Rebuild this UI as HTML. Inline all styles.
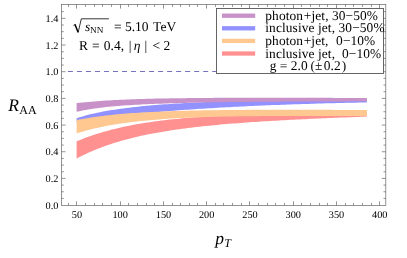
<!DOCTYPE html>
<html><head><meta charset="utf-8"><style>
html,body{margin:0;padding:0;background:#fff;}
svg{display:block;will-change:transform}
text{font-family:"Liberation Serif",serif;fill:#000;text-rendering:geometricPrecision}
.tl{font-size:10.3px}
.lg{font-size:13.4px;letter-spacing:0.1px}
.an{font-size:13.5px}
</style></head><body>
<svg width="407" height="258" viewBox="0 0 407 258">
<rect width="407" height="258" fill="#fff"/>
<path d="M67.9 71.5 H216.5" stroke="#7472bd" stroke-width="1" stroke-dasharray="5 4.02" fill="none"/>
<polygon points="76.6,141.25 79.5,140.17 82.5,139.00 85.4,137.87 88.3,136.78 91.3,135.75 94.2,134.76 97.1,133.80 100.1,132.89 103.0,132.02 105.9,131.18 108.9,130.38 111.8,129.62 114.7,128.88 117.7,128.18 120.6,127.50 123.5,126.85 126.4,126.23 129.4,125.64 132.3,125.07 135.2,124.53 138.2,124.01 141.1,123.51 144.0,123.03 147.0,122.57 149.9,122.13 152.8,121.71 155.8,121.30 158.7,120.92 161.6,120.55 164.6,120.19 167.5,119.85 170.4,119.53 173.4,119.21 176.3,118.91 179.2,118.63 182.2,118.35 185.1,118.09 188.0,117.84 191.0,117.60 193.9,117.37 196.8,117.14 199.8,116.93 202.7,116.73 205.6,116.53 208.6,116.35 211.5,116.17 214.4,116.00 217.4,115.83 220.3,115.68 223.2,115.53 226.1,115.38 229.1,115.24 232.0,115.11 234.9,114.98 237.9,114.86 240.8,114.75 243.7,114.64 246.7,114.53 249.6,114.43 252.5,114.33 255.5,114.23 258.4,114.14 261.3,114.06 264.3,113.97 267.2,113.90 270.1,113.82 273.1,113.75 276.0,113.68 278.9,113.61 281.9,113.55 284.8,113.49 287.7,113.43 290.7,113.37 293.6,113.32 296.5,113.27 299.5,113.22 302.4,113.17 305.3,113.12 308.3,113.08 311.2,113.04 314.1,113.00 317.1,112.96 320.0,112.92 322.9,112.89 325.8,112.86 328.8,112.82 331.7,112.79 334.6,112.76 337.6,112.73 340.5,112.71 343.4,112.68 346.4,112.66 349.3,112.63 352.2,112.61 355.2,112.59 358.1,112.57 361.0,112.55 364.0,112.53 366.9,112.51 366.9,116.62 364.0,116.73 361.0,116.83 358.1,116.94 355.2,117.05 352.2,117.16 349.3,117.27 346.4,117.39 343.4,117.50 340.5,117.62 337.6,117.73 334.6,117.85 331.7,117.97 328.8,118.10 325.8,118.22 322.9,118.35 320.0,118.47 317.1,118.60 314.1,118.74 311.2,118.87 308.3,119.00 305.3,119.14 302.4,119.28 299.5,119.43 296.5,119.57 293.6,119.72 290.7,119.87 287.7,120.02 284.8,120.18 281.9,120.33 278.9,120.50 276.0,120.66 273.1,120.83 270.1,121.00 267.2,121.18 264.3,121.36 261.3,121.54 258.4,121.73 255.5,121.92 252.5,122.11 249.6,122.31 246.7,122.52 243.7,122.73 240.8,122.94 237.9,123.16 234.9,123.39 232.0,123.62 229.1,123.86 226.1,124.11 223.2,124.36 220.3,124.62 217.4,124.88 214.4,125.16 211.5,125.44 208.6,125.73 205.6,126.03 202.7,126.33 199.8,126.65 196.8,126.98 193.9,127.32 191.0,127.67 188.0,128.03 185.1,128.40 182.2,128.78 179.2,129.18 176.3,129.59 173.4,130.02 170.4,130.46 167.5,130.91 164.6,131.39 161.6,131.88 158.7,132.38 155.8,132.91 152.8,133.45 149.9,134.02 147.0,134.61 144.0,135.22 141.1,135.85 138.2,136.51 135.2,137.19 132.3,137.90 129.4,138.64 126.4,139.41 123.5,140.21 120.6,141.04 117.7,141.90 114.7,142.81 111.8,143.74 108.9,144.72 105.9,145.74 103.0,146.80 100.1,147.90 97.1,149.05 94.2,150.25 91.3,151.50 88.3,152.81 85.4,154.17 82.5,155.59 79.5,157.07 76.6,158.40" fill="#ff9191"/>
<polygon points="76.6,118.20 79.5,117.33 82.5,116.41 85.4,115.57 88.3,114.79 91.3,114.06 94.2,113.39 97.1,112.76 100.1,112.17 103.0,111.61 105.9,111.08 108.9,110.57 111.8,110.10 114.7,109.64 117.7,109.21 120.6,108.80 123.5,108.40 126.4,108.03 129.4,107.67 132.3,107.32 135.2,106.99 138.2,106.68 141.1,106.37 144.0,106.09 147.0,105.81 149.9,105.54 152.8,105.29 155.8,105.04 158.7,104.81 161.6,104.58 164.6,104.36 167.5,104.16 170.4,103.96 173.4,103.77 176.3,103.59 179.2,103.41 182.2,103.24 185.1,103.08 188.0,102.93 191.0,102.78 193.9,102.63 196.8,102.50 199.8,102.37 202.7,102.24 205.6,102.12 208.6,102.00 211.5,101.89 214.4,101.79 217.4,101.68 220.3,101.59 223.2,101.49 226.1,101.40 229.1,101.32 232.0,101.23 234.9,101.15 237.9,101.08 240.8,101.00 243.7,100.93 246.7,100.86 249.6,100.80 252.5,100.74 255.5,100.68 258.4,100.62 261.3,100.57 264.3,100.51 267.2,100.46 270.1,100.41 273.1,100.37 276.0,100.32 278.9,100.28 281.9,100.24 284.8,100.20 287.7,100.16 290.7,100.13 293.6,100.09 296.5,100.06 299.5,100.02 302.4,99.99 305.3,99.96 308.3,99.94 311.2,99.91 314.1,99.88 317.1,99.86 320.0,99.83 322.9,99.81 325.8,99.79 328.8,99.77 331.7,99.75 334.6,99.73 337.6,99.71 340.5,99.69 343.4,99.67 346.4,99.66 349.3,99.64 352.2,99.63 355.2,99.61 358.1,99.60 361.0,99.58 364.0,99.57 366.9,99.56 366.9,102.38 364.0,102.44 361.0,102.50 358.1,102.57 355.2,102.63 352.2,102.70 349.3,102.77 346.4,102.84 343.4,102.91 340.5,102.98 337.6,103.06 334.6,103.13 331.7,103.21 328.8,103.29 325.8,103.37 322.9,103.45 320.0,103.53 317.1,103.62 314.1,103.71 311.2,103.79 308.3,103.88 305.3,103.98 302.4,104.07 299.5,104.17 296.5,104.26 293.6,104.36 290.7,104.47 287.7,104.57 284.8,104.68 281.9,104.78 278.9,104.89 276.0,105.01 273.1,105.12 270.1,105.24 267.2,105.36 264.3,105.48 261.3,105.60 258.4,105.73 255.5,105.86 252.5,105.99 249.6,106.12 246.7,106.26 243.7,106.40 240.8,106.54 237.9,106.69 234.9,106.83 232.0,106.99 229.1,107.14 226.1,107.30 223.2,107.46 220.3,107.62 217.4,107.79 214.4,107.96 211.5,108.13 208.6,108.31 205.6,108.49 202.7,108.67 199.8,108.86 196.8,109.05 193.9,109.25 191.0,109.44 188.0,109.65 185.1,109.86 182.2,110.07 179.2,110.28 176.3,110.50 173.4,110.73 170.4,110.95 167.5,111.19 164.6,111.43 161.6,111.67 158.7,111.92 155.8,112.17 152.8,112.43 149.9,112.69 147.0,112.96 144.0,113.23 141.1,113.51 138.2,113.79 135.2,114.08 132.3,114.38 129.4,114.68 126.4,114.99 123.5,115.31 120.6,115.63 117.7,115.96 114.7,116.29 111.8,116.64 108.9,116.99 105.9,117.35 103.0,117.72 100.1,118.11 97.1,118.50 94.2,118.92 91.3,119.35 88.3,119.81 85.4,120.29 82.5,120.82 79.5,121.39 76.6,121.93" fill="#9191ff"/>
<polygon points="76.6,120.07 79.5,119.58 82.5,119.03 85.4,118.51 88.3,118.02 91.3,117.56 94.2,117.12 97.1,116.70 100.1,116.31 103.0,115.93 105.9,115.58 108.9,115.24 111.8,114.92 114.7,114.62 117.7,114.34 120.6,114.07 123.5,113.81 126.4,113.57 129.4,113.34 132.3,113.12 135.2,112.92 138.2,112.72 141.1,112.54 144.0,112.37 147.0,112.20 149.9,112.05 152.8,111.90 155.8,111.76 158.7,111.63 161.6,111.50 164.6,111.39 167.5,111.28 170.4,111.17 173.4,111.07 176.3,110.98 179.2,110.89 182.2,110.81 185.1,110.73 188.0,110.66 191.0,110.59 193.9,110.52 196.8,110.46 199.8,110.41 202.7,110.35 205.6,110.30 208.6,110.25 211.5,110.21 214.4,110.17 217.4,110.13 220.3,110.09 223.2,110.06 226.1,110.03 229.1,110.00 232.0,109.97 234.9,109.95 237.9,109.92 240.8,109.90 243.7,109.89 246.7,109.87 249.6,109.85 252.5,109.84 255.5,109.83 258.4,109.81 261.3,109.80 264.3,109.80 267.2,109.79 270.1,109.78 273.1,109.78 276.0,109.77 278.9,109.77 281.9,109.77 284.8,109.77 287.7,109.77 290.7,109.77 293.6,109.77 296.5,109.77 299.5,109.78 302.4,109.78 305.3,109.79 308.3,109.80 311.2,109.80 314.1,109.81 317.1,109.82 320.0,109.83 322.9,109.84 325.8,109.85 328.8,109.86 331.7,109.87 334.6,109.88 337.6,109.90 340.5,109.91 343.4,109.92 346.4,109.94 349.3,109.96 352.2,109.97 355.2,109.99 358.1,110.01 361.0,110.02 364.0,110.04 366.9,110.06 366.9,116.05 364.0,116.04 361.0,116.04 358.1,116.03 355.2,116.02 352.2,116.02 349.3,116.01 346.4,116.01 343.4,116.00 340.5,116.00 337.6,115.99 334.6,115.99 331.7,115.98 328.8,115.98 325.8,115.98 322.9,115.97 320.0,115.97 317.1,115.97 314.1,115.97 311.2,115.97 308.3,115.97 305.3,115.97 302.4,115.97 299.5,115.98 296.5,115.98 293.6,115.98 290.7,115.99 287.7,116.00 284.8,116.00 281.9,116.01 278.9,116.02 276.0,116.04 273.1,116.05 270.1,116.06 267.2,116.08 264.3,116.10 261.3,116.12 258.4,116.14 255.5,116.17 252.5,116.19 249.6,116.22 246.7,116.26 243.7,116.29 240.8,116.33 237.9,116.37 234.9,116.41 232.0,116.46 229.1,116.51 226.1,116.56 223.2,116.62 220.3,116.68 217.4,116.75 214.4,116.82 211.5,116.89 208.6,116.97 205.6,117.06 202.7,117.15 199.8,117.25 196.8,117.35 193.9,117.46 191.0,117.57 188.0,117.70 185.1,117.83 182.2,117.97 179.2,118.12 176.3,118.27 173.4,118.44 170.4,118.61 167.5,118.80 164.6,118.99 161.6,119.20 158.7,119.41 155.8,119.64 152.8,119.89 149.9,120.14 147.0,120.41 144.0,120.70 141.1,121.00 138.2,121.31 135.2,121.65 132.3,122.00 129.4,122.37 126.4,122.76 123.5,123.17 120.6,123.60 117.7,124.05 114.7,124.53 111.8,125.03 108.9,125.55 105.9,126.11 103.0,126.69 100.1,127.30 97.1,127.94 94.2,128.61 91.3,129.32 88.3,130.06 85.4,130.84 82.5,131.66 79.5,132.52 76.6,133.29" fill="#ffc891"/>
<polygon points="76.6,103.09 79.5,102.80 82.5,102.50 85.4,102.20 88.3,101.93 91.3,101.67 94.2,101.43 97.1,101.20 100.1,100.99 103.0,100.78 105.9,100.59 108.9,100.41 111.8,100.24 114.7,100.08 117.7,99.93 120.6,99.79 123.5,99.66 126.4,99.53 129.4,99.41 132.3,99.30 135.2,99.20 138.2,99.10 141.1,99.01 144.0,98.92 147.0,98.84 149.9,98.76 152.8,98.69 155.8,98.62 158.7,98.55 161.6,98.49 164.6,98.44 167.5,98.38 170.4,98.33 173.4,98.29 176.3,98.24 179.2,98.20 182.2,98.16 185.1,98.13 188.0,98.09 191.0,98.06 193.9,98.03 196.8,98.00 199.8,97.98 202.7,97.95 205.6,97.93 208.6,97.91 211.5,97.89 214.4,97.87 217.4,97.86 220.3,97.84 223.2,97.83 226.1,97.81 229.1,97.80 232.0,97.79 234.9,97.78 237.9,97.77 240.8,97.77 243.7,97.76 246.7,97.75 249.6,97.75 252.5,97.74 255.5,97.74 258.4,97.74 261.3,97.73 264.3,97.73 267.2,97.73 270.1,97.73 273.1,97.73 276.0,97.73 278.9,97.74 281.9,97.74 284.8,97.74 287.7,97.75 290.7,97.75 293.6,97.75 296.5,97.76 299.5,97.77 302.4,97.77 305.3,97.78 308.3,97.79 311.2,97.80 314.1,97.81 317.1,97.82 320.0,97.83 322.9,97.84 325.8,97.85 328.8,97.86 331.7,97.87 334.6,97.89 337.6,97.90 340.5,97.92 343.4,97.93 346.4,97.95 349.3,97.97 352.2,97.98 355.2,98.00 358.1,98.02 361.0,98.04 364.0,98.07 366.9,98.09 366.9,101.34 364.0,101.34 361.0,101.35 358.1,101.36 355.2,101.36 352.2,101.37 349.3,101.37 346.4,101.38 343.4,101.39 340.5,101.40 337.6,101.40 334.6,101.41 331.7,101.42 328.8,101.43 325.8,101.44 322.9,101.45 320.0,101.46 317.1,101.47 314.1,101.48 311.2,101.49 308.3,101.50 305.3,101.52 302.4,101.53 299.5,101.54 296.5,101.56 293.6,101.57 290.7,101.59 287.7,101.60 284.8,101.62 281.9,101.64 278.9,101.65 276.0,101.67 273.1,101.69 270.1,101.71 267.2,101.74 264.3,101.76 261.3,101.78 258.4,101.81 255.5,101.83 252.5,101.86 249.6,101.89 246.7,101.91 243.7,101.95 240.8,101.98 237.9,102.01 234.9,102.04 232.0,102.08 229.1,102.12 226.1,102.16 223.2,102.20 220.3,102.24 217.4,102.28 214.4,102.33 211.5,102.38 208.6,102.43 205.6,102.48 202.7,102.54 199.8,102.59 196.8,102.65 193.9,102.72 191.0,102.78 188.0,102.85 185.1,102.92 182.2,103.00 179.2,103.07 176.3,103.16 173.4,103.24 170.4,103.33 167.5,103.42 164.6,103.52 161.6,103.63 158.7,103.73 155.8,103.85 152.8,103.97 149.9,104.09 147.0,104.22 144.0,104.36 141.1,104.51 138.2,104.66 135.2,104.82 132.3,104.99 129.4,105.18 126.4,105.37 123.5,105.57 120.6,105.79 117.7,106.02 114.7,106.26 111.8,106.52 108.9,106.80 105.9,107.10 103.0,107.42 100.1,107.77 97.1,108.14 94.2,108.55 91.3,108.99 88.3,109.46 85.4,109.98 82.5,110.54 79.5,111.16 76.6,111.75" fill="#c891c8"/>
<rect x="61.5" y="4.6" width="324.3" height="200.75" fill="none" stroke="#666" stroke-width="0.7"/>
<path d="M68.50 205.35 v-2.3 M68.50 4.6 v2.3 M76.50 205.35 v-4.0 M76.50 4.6 v4.0 M85.50 205.35 v-2.3 M85.50 4.6 v2.3 M94.50 205.35 v-2.3 M94.50 4.6 v2.3 M102.50 205.35 v-2.3 M102.50 4.6 v2.3 M111.50 205.35 v-2.3 M111.50 4.6 v2.3 M120.50 205.35 v-4.0 M120.50 4.6 v4.0 M128.50 205.35 v-2.3 M128.50 4.6 v2.3 M137.50 205.35 v-2.3 M137.50 4.6 v2.3 M146.50 205.35 v-2.3 M146.50 4.6 v2.3 M154.50 205.35 v-2.3 M154.50 4.6 v2.3 M163.50 205.35 v-4.0 M163.50 4.6 v4.0 M172.50 205.35 v-2.3 M172.50 4.6 v2.3 M180.50 205.35 v-2.3 M180.50 4.6 v2.3 M189.50 205.35 v-2.3 M189.50 4.6 v2.3 M197.50 205.35 v-2.3 M197.50 4.6 v2.3 M206.50 205.35 v-4.0 M206.50 4.6 v4.0 M215.50 205.35 v-2.3 M215.50 4.6 v2.3 M223.50 205.35 v-2.3 M223.50 4.6 v2.3 M232.50 205.35 v-2.3 M232.50 4.6 v2.3 M241.50 205.35 v-2.3 M241.50 4.6 v2.3 M249.50 205.35 v-4.0 M249.50 4.6 v4.0 M258.50 205.35 v-2.3 M258.50 4.6 v2.3 M267.50 205.35 v-2.3 M267.50 4.6 v2.3 M275.50 205.35 v-2.3 M275.50 4.6 v2.3 M284.50 205.35 v-2.3 M284.50 4.6 v2.3 M293.50 205.35 v-4.0 M293.50 4.6 v4.0 M301.50 205.35 v-2.3 M301.50 4.6 v2.3 M310.50 205.35 v-2.3 M310.50 4.6 v2.3 M319.50 205.35 v-2.3 M319.50 4.6 v2.3 M327.50 205.35 v-2.3 M327.50 4.6 v2.3 M336.50 205.35 v-4.0 M336.50 4.6 v4.0 M345.50 205.35 v-2.3 M345.50 4.6 v2.3 M353.50 205.35 v-2.3 M353.50 4.6 v2.3 M362.50 205.35 v-2.3 M362.50 4.6 v2.3 M371.50 205.35 v-2.3 M371.50 4.6 v2.3 M379.50 205.35 v-4.0 M379.50 4.6 v4.0 M61.5 198.43 h2.3 M385.8 198.43 h-2.3 M61.5 191.76 h2.3 M385.8 191.76 h-2.3 M61.5 185.09 h2.3 M385.8 185.09 h-2.3 M61.5 178.42 h4.0 M385.8 178.42 h-4.0 M61.5 171.75 h2.3 M385.8 171.75 h-2.3 M61.5 165.08 h2.3 M385.8 165.08 h-2.3 M61.5 158.41 h2.3 M385.8 158.41 h-2.3 M61.5 151.74 h4.0 M385.8 151.74 h-4.0 M61.5 145.07 h2.3 M385.8 145.07 h-2.3 M61.5 138.40 h2.3 M385.8 138.40 h-2.3 M61.5 131.73 h2.3 M385.8 131.73 h-2.3 M61.5 125.06 h4.0 M385.8 125.06 h-4.0 M61.5 118.39 h2.3 M385.8 118.39 h-2.3 M61.5 111.72 h2.3 M385.8 111.72 h-2.3 M61.5 105.05 h2.3 M385.8 105.05 h-2.3 M61.5 98.38 h4.0 M385.8 98.38 h-4.0 M61.5 91.71 h2.3 M385.8 91.71 h-2.3 M61.5 85.04 h2.3 M385.8 85.04 h-2.3 M61.5 78.37 h2.3 M385.8 78.37 h-2.3 M61.5 71.70 h4.0 M385.8 71.70 h-4.0 M61.5 65.03 h2.3 M385.8 65.03 h-2.3 M61.5 58.36 h2.3 M385.8 58.36 h-2.3 M61.5 51.69 h2.3 M385.8 51.69 h-2.3 M61.5 45.02 h4.0 M385.8 45.02 h-4.0 M61.5 38.35 h2.3 M385.8 38.35 h-2.3 M61.5 31.68 h2.3 M385.8 31.68 h-2.3 M61.5 25.01 h2.3 M385.8 25.01 h-2.3 M61.5 18.34 h4.0 M385.8 18.34 h-4.0 M61.5 11.67 h2.3 M385.8 11.67 h-2.3" stroke="#666" stroke-width="0.7" fill="none"/>
<text x="76.9" y="217.8" text-anchor="middle" class="tl">50</text>
<text x="120.2" y="217.8" text-anchor="middle" class="tl">100</text>
<text x="163.5" y="217.8" text-anchor="middle" class="tl">150</text>
<text x="206.7" y="217.8" text-anchor="middle" class="tl">200</text>
<text x="250.0" y="217.8" text-anchor="middle" class="tl">250</text>
<text x="293.3" y="217.8" text-anchor="middle" class="tl">300</text>
<text x="336.5" y="217.8" text-anchor="middle" class="tl">350</text>
<text x="379.8" y="217.8" text-anchor="middle" class="tl">400</text>
<text x="58.4" y="208.7" text-anchor="end" class="tl">0.0</text>
<text x="58.4" y="182.0" text-anchor="end" class="tl">0.2</text>
<text x="58.4" y="155.3" text-anchor="end" class="tl">0.4</text>
<text x="58.4" y="128.7" text-anchor="end" class="tl">0.6</text>
<text x="58.4" y="102.0" text-anchor="end" class="tl">0.8</text>
<text x="58.4" y="75.3" text-anchor="end" class="tl">1.0</text>
<text x="58.4" y="48.6" text-anchor="end" class="tl">1.2</text>
<text x="58.4" y="21.9" text-anchor="end" class="tl">1.4</text>
<rect x="216.5" y="8.5" width="167" height="65" fill="#fff" stroke="#555" stroke-width="0.9"/>
<rect x="222" y="13.55" width="33.2" height="4.3" fill="#c891c8"/>
<text x="265.3" y="19.8" class="lg" xml:space="preserve">photon<tspan dx="0.7">+</tspan>jet, 30−50%</text>
<rect x="222" y="26.15" width="33.2" height="4.3" fill="#9191ff"/>
<text x="265.3" y="32.4" class="lg" xml:space="preserve">inclusive jet, 30−50%</text>
<rect x="222" y="38.75" width="33.2" height="4.3" fill="#ffc891"/>
<text x="265.3" y="45.0" class="lg" xml:space="preserve">photon<tspan dx="0.6">+</tspan>jet,  <tspan dx="0.7">0</tspan>−10%</text>
<rect x="222" y="51.35" width="33.2" height="4.3" fill="#ff9191"/>
<text x="265.3" y="57.6" class="lg" xml:space="preserve">inclusive jet,  0−10%</text>
<text y="70.2" class="lg" xml:space="preserve"><tspan x="269.7">g </tspan><tspan x="279.7">= </tspan><tspan x="290.8">2.0 </tspan><tspan x="310.6">(</tspan><tspan x="315.0">±</tspan><tspan x="323.8">0.2</tspan><tspan x="341.7">)</tspan></text>
<text x="8.2" y="111" style="font-size:17.5px;font-style:italic">R</text>
<text x="19.3" y="114.4" style="font-size:12px">AA</text>
<text x="215.3" y="244.2" style="font-size:17.5px;font-style:italic">p</text>
<text x="224.3" y="246.9" style="font-size:12px;font-style:italic">T</text>
<path d="M73.4 25.7 L75.1 24.5" stroke="#000" stroke-width="0.7" fill="none"/><path d="M74.9 24.3 L78.1 32.2" stroke="#000" stroke-width="1.5" fill="none"/><path d="M78.1 32.6 L81.3 18.8 H108.9" stroke="#000" stroke-width="0.8" fill="none"/>
<text x="85" y="30.7" class="an" style="font-style:italic">s</text>
<text x="90.0" y="33.4" style="font-size:9.2px">NN</text>
<text y="31.2" class="an" xml:space="preserve"><tspan x="113.9">= </tspan><tspan x="124.9">5.10 </tspan><tspan x="153.1">TeV</tspan></text>
<text y="50" class="an" xml:space="preserve"><tspan x="78.9">R </tspan><tspan x="92.0">= </tspan><tspan x="103.8">0.4, </tspan><tspan x="128.8">| </tspan><tspan x="133.8" style="font-style:italic">η</tspan> <tspan x="144.4">| </tspan><tspan x="152.5">&lt; </tspan><tspan x="163.4">2</tspan></text>
</svg>
</body></html>
